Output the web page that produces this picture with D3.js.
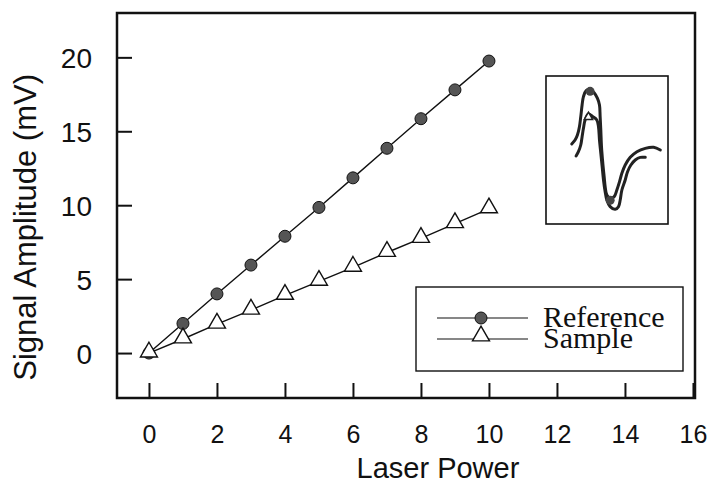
<!DOCTYPE html>
<html>
<head>
<meta charset="utf-8">
<script src="https://cdn.jsdelivr.net/npm/d3@7"></script>
<style>
  body { margin: 0; background: #fff; }
  svg { display: block; }
</style>
</head>
<body>
<svg id="chart" width="711" height="483"></svg>
<script>
// Data
const laserPower = [0, 1, 2, 3, 4, 5, 6, 7, 8, 9, 10];
const referenceValues = [0, 2, 4, 5.95, 7.9, 9.85, 11.85, 13.85, 15.85, 17.8, 19.75];
const sampleValues = [0, 0.95, 1.95, 2.9, 3.9, 4.85, 5.8, 6.8, 7.75, 8.75, 9.75];
const xTicks = [0, 2, 4, 6, 8, 10, 12, 14, 16];
const yTicks = [0, 5, 10, 15, 20];
const seriesNames = ["Reference", "Sample"];

// Inset waveform traces (arbitrary time / amplitude units)
const insetReference = [
  [77, 240], [87, 252], [94, 267], [100, 292], [104, 322], [108, 357], [112, 382],
  [120, 400], [132, 404], [144, 394], [154, 377], [160, 357], [162, 322], [164, 282],
  [166, 232], [170, 182], [174, 142], [177, 112], [182, 87], [192, 77], [204, 82],
  [212, 102], [220, 127], [227, 152], [237, 177], [252, 200], [272, 217], [297, 227],
  [322, 230], [342, 222]
];
const insetSample = [
  [90, 204], [97, 217], [104, 237], [108, 262], [112, 287], [117, 312], [127, 330],
  [140, 322], [152, 312], [157, 292], [160, 252], [164, 212], [168, 172], [172, 132],
  [177, 97], [182, 72], [192, 52], [207, 44], [217, 52], [222, 72], [227, 102],
  [237, 132], [244, 157], [254, 177], [267, 192], [282, 200], [297, 200]
];

const W = 711;
const MARGIN = { top: 13, right: 16, bottom: 85, left: 117 };
const width = W - MARGIN.left - MARGIN.right;
const height = 483 - MARGIN.top - MARGIN.bottom;
const TICK = 15;
const SANS = "'Liberation Sans', Arial, Helvetica, sans-serif";
const SERIF = "'Liberation Serif', 'Times New Roman', serif";

const svg = d3.select("#chart");
const g = svg.append("g").attr("transform", `translate(${MARGIN.left},${MARGIN.top})`);

const x = d3.scaleLinear().domain([-0.94, 16.06]).range([0, width]);
const y = d3.scaleLinear().domain([-3.04, 23]).range([height, 0]);

// Axes (ticks point inward)
const xAxis = g.append("g")
  .attr("transform", `translate(0,${height})`)
  .call(d3.axisBottom(x).tickValues(xTicks).tickSize(-TICK).tickPadding(TICK + 12));
const yAxis = g.append("g")
  .call(d3.axisLeft(y).tickValues(yTicks).tickSize(-TICK).tickPadding(25));
[xAxis, yAxis].forEach(a => {
  a.select(".domain").remove();
  a.selectAll("line").attr("stroke", "#111").attr("stroke-width", 2);
  a.selectAll("text").attr("fill", "#111").attr("font-family", SANS);
});
xAxis.selectAll("text").attr("font-size", 25);
yAxis.selectAll("text").attr("font-size", 28).attr("dy", "0.36em");

// Frame
g.append("rect")
  .attr("width", width).attr("height", height)
  .attr("fill", "none").attr("stroke", "#111").attr("stroke-width", 2.5);

// Axis titles
svg.append("text")
  .text("Laser Power")
  .attr("x", MARGIN.left + x(8.5)).attr("y", 478)
  .attr("text-anchor", "middle")
  .attr("font-family", SANS).attr("font-size", 29).attr("fill", "#111");
svg.append("text")
  .text("Signal Amplitude (mV)")
  .attr("transform", `translate(36,${MARGIN.top + y(8.5)}) rotate(-90)`)
  .attr("text-anchor", "middle")
  .attr("font-family", SANS).attr("font-size", 31).attr("fill", "#111");

// Series
const line = d3.line().x(d => x(d[0])).y(d => y(d[1]));
const refData = laserPower.map((p, i) => [p, referenceValues[i]]);
const sampleData = laserPower.map((p, i) => [p, sampleValues[i]]);
const tri = d3.symbol(d3.symbolTriangle, 125);

g.append("path").datum(refData)
  .attr("d", line).attr("fill", "none").attr("stroke", "#111").attr("stroke-width", 1.4);
g.append("path").datum(sampleData)
  .attr("d", line).attr("fill", "none").attr("stroke", "#111").attr("stroke-width", 1.4);

g.selectAll(".ref").data(refData).enter().append("circle")
  .attr("cx", d => x(d[0])).attr("cy", d => y(d[1])).attr("r", 6)
  .attr("fill", "#555").attr("stroke", "#111").attr("stroke-width", 1);
g.selectAll(".smp").data(sampleData).enter().append("path")
  .attr("d", tri)
  .attr("transform", d => `translate(${x(d[0])},${y(d[1]) - 1})`)
  .attr("fill", "#fff").attr("stroke", "#111").attr("stroke-width", 1.4);

// Legend
const legend = svg.append("g").attr("transform", "translate(416,287)");
legend.append("rect")
  .attr("width", 267).attr("height", 84)
  .attr("fill", "#fff").attr("stroke", "#111").attr("stroke-width", 1.4);
seriesNames.forEach((name, i) => {
  const ly = 31 + i * 21;
  const row = legend.append("g").attr("transform", `translate(0,${ly})`);
  row.append("line").attr("x1", 21).attr("x2", 112)
    .attr("stroke", "#111").attr("stroke-width", 1.2);
  if (i === 0) {
    row.append("circle").attr("cx", 65).attr("r", 6)
      .attr("fill", "#555").attr("stroke", "#111");
  } else {
    row.append("path").attr("d", tri).attr("transform", "translate(65,-3)")
      .attr("fill", "#fff").attr("stroke", "#111").attr("stroke-width", 1.4);
  }
  row.append("text").text(name)
    .attr("x", 127).attr("y", 9)
    .attr("font-family", SERIF).attr("font-size", 30).attr("fill", "#111");
});

// Inset
const inset = svg.append("g").attr("transform", "translate(546,76)");
const iw = 122, ih = 148;
inset.append("rect").attr("width", iw).attr("height", ih)
  .attr("fill", "#fff").attr("stroke", "#111").attr("stroke-width", 1.6);
const ix = d3.scaleLinear().domain([0, 365]).range([0, iw]);
const iy = d3.scaleLinear().domain([0, 444]).range([ih, 0]);
const iline = d3.line().x(d => ix(d[0])).y(d => iy(d[1])).curve(d3.curveCatmullRom);
[insetReference, insetSample].forEach(tr => {
  inset.append("path").datum(tr).attr("d", iline)
    .attr("fill", "none").attr("stroke", "#222").attr("stroke-width", 3)
    .attr("stroke-linecap", "round").attr("stroke-linejoin", "round");
});
[insetReference[8], insetReference[19]].forEach(d => {
  inset.append("circle").attr("cx", ix(d[0])).attr("cy", iy(d[1]) + 2).attr("r", 4.5)
    .attr("fill", "#444");
});
inset.append("path").attr("d", d3.symbol(d3.symbolTriangle, 30))
  .attr("transform", `translate(${ix(insetSample[6][0])},${iy(insetSample[6][1]) + 3})`)
  .attr("fill", "#fff").attr("stroke", "#222").attr("stroke-width", 1.5);
</script>
</body>
</html>
